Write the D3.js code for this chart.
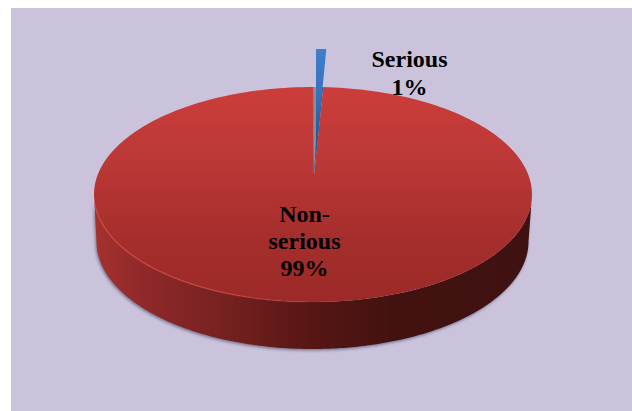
<!DOCTYPE html>
<html><head><meta charset="utf-8">
<script src="https://cdnjs.cloudflare.com/ajax/libs/d3/7.8.5/d3.min.js"></script>
<style>html,body{margin:0;padding:0;background:#fff}svg{display:block}</style></head>
<body><svg id="c" width="632" height="411"></svg>
<script>
const categories = ["Serious", "Non-serious"];
const values = [0.75, 99.25];
const labels = [["Serious", "1%"], ["Non-", "serious", "99%"]];

const cx = 313, cy = 194.5, rx = 219, ry = 107.5, depth = 47;
const bcx = 312.5, brx = 216;
const apex = [314, 175], explodeY = 38;

const svg = d3.select("#c");
const defs = svg.append("defs");
function grad(id, dir, stops) {
  const g = defs.append("linearGradient").attr("id", id)
    .attr("x1", 0).attr("y1", 0).attr("x2", dir === "x" ? 1 : 0).attr("y2", dir === "x" ? 0 : 1);
  stops.forEach(s => g.append("stop").attr("offset", s[0]).attr("stop-color", s[1]).attr("stop-opacity", s[2] == null ? 1 : s[2]));
}
grad("top", "y", [[0, "#cb3d3a"], [0.35, "#bb3836"], [0.7, "#a52e2c"], [1, "#9c2a28"]]);
grad("side", "x", [[0, "#a5322e"], [0.1, "#92292a"], [0.3, "#752120"], [0.5, "#561614"], [0.68, "#431210"], [1, "#3f1110"]]);
grad("rim", "x", [[0, "#d04a46", 0.8], [0.6, "#d04a46", 0.6], [1, "#c8403c", 0]]);
grad("blue", "y", [[0, "#3f7fcf"], [0.45, "#3670b8"], [1, "#1f4f8c"]]);
const blur = defs.append("filter").attr("id", "b").attr("x", "-10%").attr("y", "-20%").attr("width", "120%").attr("height", "140%");
blur.append("feGaussianBlur").attr("stdDeviation", 1.8);
const soft = defs.append("filter").attr("id", "s").attr("x", "-5%").attr("y", "-5%").attr("width", "110%").attr("height", "110%");
soft.append("feGaussianBlur").attr("stdDeviation", 0.5);

svg.append("rect").attr("x", 11).attr("y", 8).attr("width", 621).attr("height", 403).attr("fill", "#cbc3dc");

const pie = d3.pie().sort(null).value(d => d)(values);
const serious = pie[0], rest = pie[1];
const px = a => cx + rx * Math.sin(a), py = a => cy - ry * Math.cos(a);
const bx = a => bcx + brx * Math.sin(a), by = a => cy + depth - ry * Math.cos(a);
const angles = (a0, a1) => d3.range(0, 241).map(i => a0 + (a1 - a0) * i / 240);
const line = d3.line();

// wall: lower half of the rim joined to a slightly narrower base
const lowerA = angles(Math.PI / 2, 3 * Math.PI / 2);
const wall = lowerA.map(a => [px(a), py(a)]).concat(lowerA.slice().reverse().map(a => [bx(a), by(a)]));
svg.append("path").attr("d", line(wall) + "Z")
  .attr("transform", "translate(-1,1.5)").attr("fill", "#62627c").attr("opacity", 0.8).attr("filter", "url(#b)");
svg.append("path").attr("d", line(wall) + "Z").attr("fill", "url(#side)");

// top of the large slice, notched toward the apex
const topPts = angles(rest.startAngle, rest.endAngle).map(a => [px(a), py(a)]).concat([apex]);
const edge = [px(rest.endAngle), py(rest.endAngle)], edgeR = [px(rest.startAngle), py(rest.startAngle)];

// underlay of the notch
svg.append("path").attr("d", line([edge, edgeR, apex]) + "Z").attr("fill", "#2a5a95");
svg.append("path").attr("d", line(topPts) + "Z").attr("fill", "url(#top)").attr("stroke", "none");

// lit rim on the lower left
svg.append("path").attr("d", line(angles(Math.PI * 0.97, Math.PI * 1.47).map(a => [px(a), py(a)])))
  .attr("fill", "none").attr("stroke", "url(#rim)").attr("stroke-width", 1.4).attr("filter", "url(#s)");

// grey inner wall of the notch
svg.append("path").attr("d", line([edge, [edge[0] + 3, edge[1]], [edge[0] + 3, edge[1] + 55], apex]) + "Z")
  .attr("fill", "#8f8a93");

// exploded small slice
const shiftX = 3;
const bluePts = angles(serious.startAngle, serious.endAngle).map(a => [px(a) + shiftX, py(a) - explodeY])
  .concat([[px(serious.startAngle) + shiftX, py(serious.startAngle) - explodeY + 106]]);
svg.append("path").attr("d", line(bluePts) + "Z").attr("fill", "url(#blue)");

// labels
const labelPos = [[409.5, 67], [304.5, 222]];
const lineH = [28, 27];
labels.forEach((ls, i) => {
  const t = svg.append("text").attr("text-anchor", "middle")
    .attr("font-family", "'Liberation Serif', serif").attr("font-weight", "bold")
    .attr("font-size", 24).attr("fill", "#000");
  ls.forEach((s, j) => t.append("tspan").attr("x", labelPos[i][0]).attr("y", labelPos[i][1] + j * lineH[i]).text(s));
});
</script></body></html>
